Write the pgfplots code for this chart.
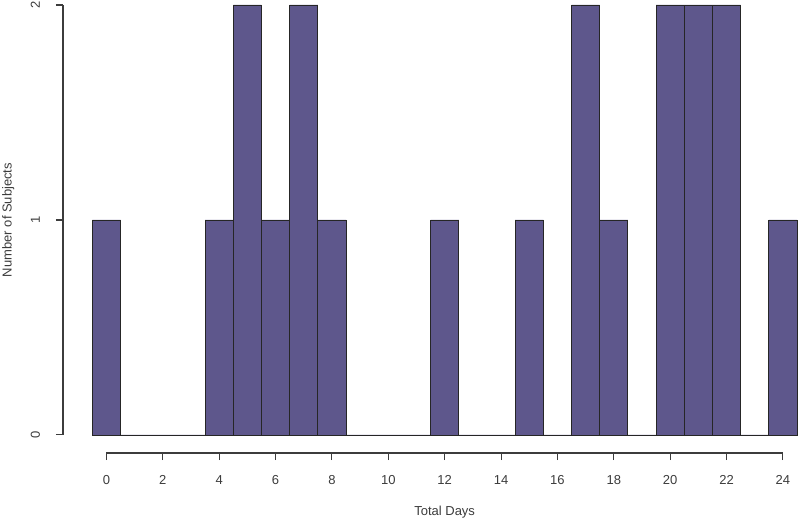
\documentclass[border=0pt]{standalone}
\usepackage{pgfplots}
\pgfplotsset{compat=1.18}
\usepackage{fontspec}
\setmainfont{Liberation Sans}
\definecolor{barfill}{RGB}{94,87,140}
\definecolor{inkgray}{RGB}{60,60,60}
\begin{document}
\begin{tikzpicture}
\begin{axis}[
  scale only axis,
  width=550.5pt, height=336pt,
  xmin=-1.54, xmax=24.5,
  ymin=-0.084, ymax=2,
  clip=false,
  axis line style={draw=none},
  tick pos=left,
  tick align=outside,
  major tick length=5.25pt,
  tick style={inkgray, line width=0.8pt},
  xtick={0,2,...,24},
  ytick={0,1,2},
  font=\fontsize{9.75}{12}\selectfont,
  xticklabel style={anchor=center, yshift=-15pt, text=inkgray},
  yticklabel style={rotate=90, anchor=center, yshift=15.5pt, text=inkgray},
  /pgf/number format/assume math mode=true,
]
\addplot[ybar, bar width=1, bar shift=0pt, fill=barfill, draw=black!85, line width=0.6pt]
coordinates {
(0,1) (1,0) (2,0) (3,0) (4,1) (5,2) (6,1) (7,2) (8,1) (9,0) (10,0) (11,0) (12,1)
(13,0) (14,0) (15,1) (16,0) (17,2) (18,1) (19,0) (20,2) (21,2) (22,2) (23,0) (24,1)
};
\draw[inkgray, line width=0.8pt] (axis cs:0,-0.084) -- (axis cs:24,-0.084);
\draw[inkgray, line width=0.8pt] (axis cs:-1.54,0) -- (axis cs:-1.54,2);
\node[text=inkgray, font=\fontsize{9.75}{12}\selectfont] at ([yshift=-44pt]axis cs:12,-0.084) {Total Days};
\node[text=inkgray, rotate=90, font=\fontsize{9.75}{12}\selectfont] at ([xshift=-41pt]axis cs:-1.54,1) {Number of Subjects};
\end{axis}
\pgfresetboundingbox
\path (current axis.south west) ++(-47.25pt,-51pt) rectangle ++(600pt,390.75pt);
\end{tikzpicture}
\end{document}
